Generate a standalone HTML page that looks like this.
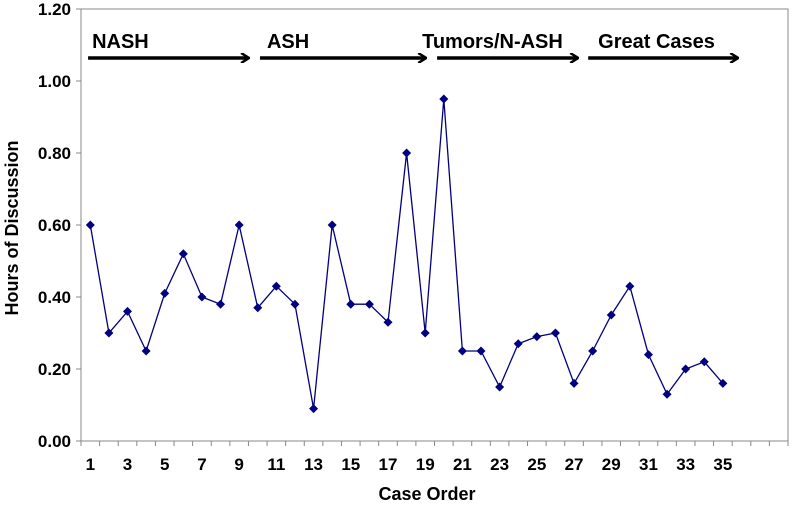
<!DOCTYPE html>
<html><head><meta charset="utf-8"><style>
body{margin:0;background:#fff;}
svg{display:block;font-family:"Liberation Sans",sans-serif;}
</style></head><body>
<svg id="chart" width="792" height="506" viewBox="0 0 792 506">
<defs><marker id="ah" markerWidth="10" markerHeight="10" refX="8" refY="5" orient="auto" markerUnits="userSpaceOnUse"><path d="M1,0 L9,5 L1,10" fill="none" stroke="#000" stroke-width="2.5"/></marker></defs>
<rect x="81" y="9" width="707" height="432" fill="#fff" stroke="#888" stroke-width="1"/>
<g id="axes"></g>
<g id="phases"></g>
<polyline id="line" fill="none" stroke="#000080" stroke-width="1.3"/>
<g id="pts"></g>
<text x="427" y="500" text-anchor="middle" font-size="18" font-weight="bold">Case Order</text>
<text transform="translate(18,228) rotate(-90)" text-anchor="middle" font-size="18" font-weight="bold">Hours of Discussion</text>
</svg>
<script>
const hours=[0.60,0.30,0.36,0.25,0.41,0.52,0.40,0.38,0.60,0.37,0.43,0.38,0.09,0.60,0.38,0.38,0.33,0.80,0.30,0.95,0.25,0.25,0.15,0.27,0.29,0.30,0.16,0.25,0.35,0.43,0.24,0.13,0.20,0.22,0.16];
const yTicks=[0,0.2,0.4,0.6,0.8,1.0,1.2];
const xLabels=[1,3,5,7,9,11,13,15,17,19,21,23,25,27,29,31,33,35];
const phaseNames=["NASH","ASH","Tumors/N-ASH","Great Cases"];
const phaseStart=[0.88,10.12,19.64,27.76];
const phaseEnd=[9.48,19.0,27.17,35.77];
const nSlots=38,pLeft=81,pRight=788,pTop=9,pBottom=441,ymax=1.2;
const step=(pRight-pLeft)/nSlots;
const xs=c=>pLeft+(c-0.5)*step;
const ys=v=>pBottom-(v/ymax)*(pBottom-pTop);
const NS="http://www.w3.org/2000/svg";
const mk=(t,a,par)=>{const e=document.createElementNS(NS,t);for(const k in a)e.setAttribute(k,a[k]);par.appendChild(e);return e;};
const ax=document.getElementById('axes');
yTicks.forEach(v=>{
  const l=mk('line',{x1:pLeft-5,x2:pLeft,y1:ys(v),y2:ys(v),stroke:'#888'},ax);
  
  
  const t=mk('text',{x:pLeft-10,y:ys(v)+6,'text-anchor':'end','font-size':'17','font-weight':'bold'},ax);
  t.textContent=v.toFixed(2);
  
  
});
for(let i=0;i<=nSlots;i++){
  const l=mk('line',{x1:pLeft+i*step,x2:pLeft+i*step,y1:pBottom,y2:pBottom+5,stroke:'#888'},ax);
  
  
}
xLabels.forEach(c=>{
  const t=mk('text',{x:xs(c),y:pBottom+29,'text-anchor':'middle','font-size':'17','font-weight':'bold'},ax);
  t.textContent=c;
  
  
});
const ph=document.getElementById('phases');
const labOff=[4,7,-15,10];
phaseNames.forEach((n,i)=>{
  const x1=xs(phaseStart[i]),x2=xs(phaseEnd[i]);
  const l=mk('line',{x1:x1,x2:x2,y1:58,y2:58,stroke:'#000','stroke-width':'3.5','marker-end':'url(#ah)'},ph);
  
  
  const t=mk('text',{x:x1+labOff[i],y:48,'font-size':'20','font-weight':'bold'},ph);
  t.textContent=n;
  
  
});
document.getElementById('line').setAttribute('points',hours.map((v,i)=>xs(i+1)+','+ys(v)).join(' '));
const pg=document.getElementById('pts');
hours.forEach((v,i)=>{
  const x=xs(i+1),y=ys(v);
  const d=mk('polygon',{points:`${x},${y-4.5} ${x+4.5},${y} ${x},${y+4.5} ${x-4.5},${y}`,fill:'#000080'},pg);
  
  
});
</script>
</body></html>
